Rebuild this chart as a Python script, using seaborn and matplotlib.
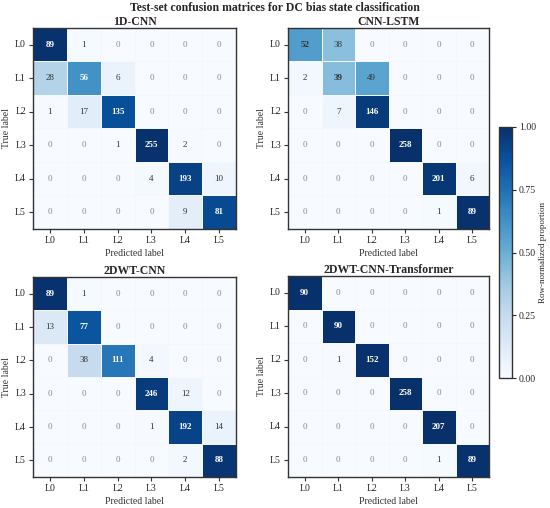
import numpy as np
import matplotlib
matplotlib.use("Agg")
import matplotlib.pyplot as plt
import seaborn as sns

sns.set_style("white")
plt.rcParams['font.family'] = ['Liberation Serif', 'DejaVu Serif']

# ---- data ----
labels = ["L0", "L1", "L2", "L3", "L4", "L5"]
model_names = ["1D-CNN", "CNN-LSTM", "2DWT-CNN", "2DWT-CNN-Transformer"]

cm_1dcnn = [[89, 1, 0, 0, 0, 0],
            [28, 56, 6, 0, 0, 0],
            [1, 17, 135, 0, 0, 0],
            [0, 0, 1, 255, 2, 0],
            [0, 0, 0, 4, 193, 10],
            [0, 0, 0, 0, 9, 81]]
cm_cnnlstm = [[52, 38, 0, 0, 0, 0],
              [2, 39, 49, 0, 0, 0],
              [0, 7, 146, 0, 0, 0],
              [0, 0, 0, 258, 0, 0],
              [0, 0, 0, 0, 201, 6],
              [0, 0, 0, 0, 1, 89]]
cm_dwtcnn = [[89, 1, 0, 0, 0, 0],
             [13, 77, 0, 0, 0, 0],
             [0, 38, 111, 4, 0, 0],
             [0, 0, 0, 246, 12, 0],
             [0, 0, 0, 1, 192, 14],
             [0, 0, 0, 0, 2, 88]]
cm_dwttrans = [[90, 0, 0, 0, 0, 0],
               [0, 90, 0, 0, 0, 0],
               [0, 1, 152, 0, 0, 0],
               [0, 0, 0, 258, 0, 0],
               [0, 0, 0, 0, 207, 0],
               [0, 0, 0, 0, 1, 89]]
matrices = [cm_1dcnn, cm_cnnlstm, cm_dwtcnn, cm_dwttrans]

W, H = 550, 508
fig = plt.figure(figsize=(W / 100, H / 100), dpi=100)

def px_axes(x0, y0, x1, y1):
    return fig.add_axes([x0 / W, 1 - y1 / H, (x1 - x0) / W, (y1 - y0) / H])

boxes = [(33, 28, 236, 229), (288, 28, 489, 229),
         (33, 277, 236, 477), (288, 276, 489, 477)]

for name, cm, box in zip(model_names, matrices, boxes):
    ax = px_axes(*box)
    counts = np.array(cm)
    norm = counts / counts.sum(axis=1, keepdims=True)
    sns.heatmap(norm, ax=ax, cmap="Blues", vmin=0, vmax=1, cbar=False,
                annot=counts, fmt="d", linewidths=0.5, linecolor="#f4f8fc",
                xticklabels=labels, yticklabels=labels,
                annot_kws={"fontsize": 6.5})
    k = 0
    for i in range(6):
        for j in range(6):
            t = ax.texts[k]
            k += 1
            p = norm[i, j]
            if p > 0.6:
                t.set_color("white")
            elif counts[i, j] == 0:
                t.set_color("#8a8a8a")
            else:
                t.set_color("#333333")
            if i == j:
                t.set_fontweight("bold")
    for s in ax.spines.values():
        s.set_visible(True)
        s.set_color("#333333")
        s.set_linewidth(1.0)
    ax.tick_params(axis="both", labelsize=7, length=3, width=0.8,
                   color="#333333", left=True, bottom=True, pad=2)
    ax.set_yticklabels(labels, rotation=0)
    ax.set_xticklabels(labels, rotation=0)
    ax.set_xlabel("Predicted label", fontsize=7, color="#333333", labelpad=3)
    ax.set_ylabel("True label", fontsize=7, color="#333333", labelpad=3)
    ax.set_title(name, fontsize=8.5, fontweight="bold", pad=2)

cax = px_axes(499, 127, 512, 378)
sm = plt.cm.ScalarMappable(cmap="Blues", norm=plt.Normalize(0, 1))
cb = fig.colorbar(sm, cax=cax, ticks=[0, 0.25, 0.5, 0.75, 1.0])
cb.ax.set_yticklabels(["0.00", "0.25", "0.50", "0.75", "1.00"])
cb.ax.tick_params(labelsize=7, length=3, width=0.8, pad=2)
cb.outline.set_edgecolor("#333333")
cb.outline.set_linewidth(1.0)
cb.set_label("Row-normalized proportion", fontsize=6.5, labelpad=2)

fig.suptitle("Test-set confusion matrices for DC bias state classification",
             fontsize=8.5, fontweight="bold", x=0.5, y=0.997)

fig.savefig("out.png", dpi=100)
